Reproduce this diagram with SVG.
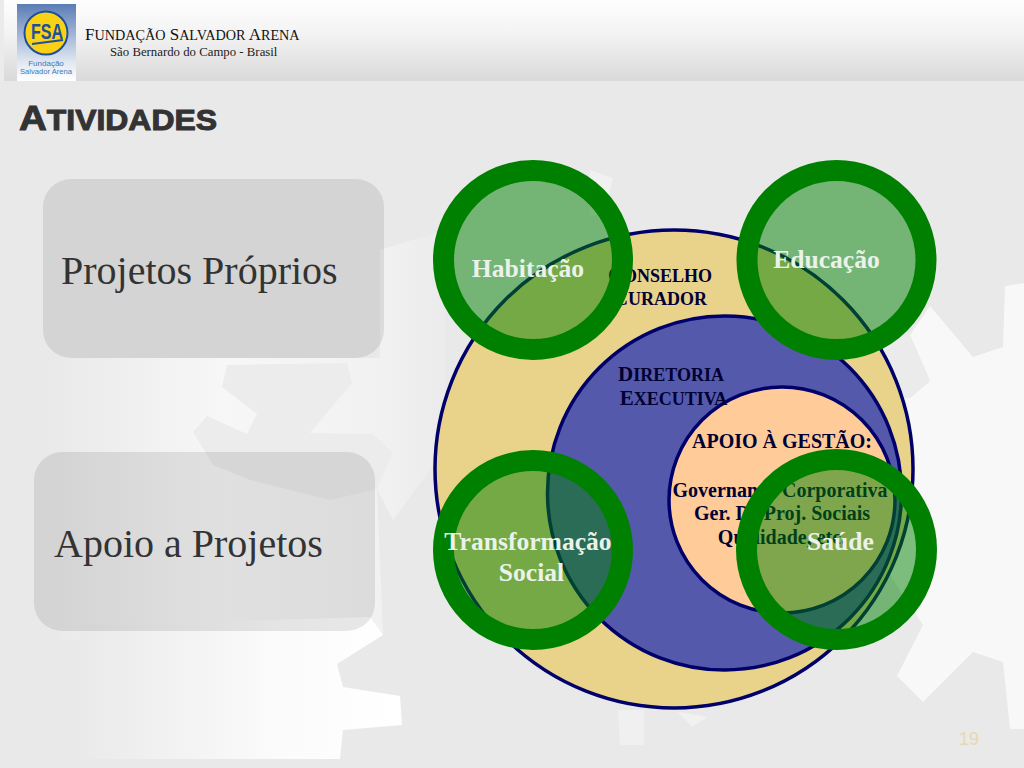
<svg xmlns="http://www.w3.org/2000/svg" width="1024" height="768" viewBox="0 0 1024 768">
<style>
.ring{fill:#008000;fill-opacity:.5;stroke:#008000;stroke-width:21}
.disc{stroke:#00006a;stroke-width:3.5}
.box{fill:#000;fill-opacity:.09}
.sf{font-family:"Liberation Serif","Times New Roman",serif}
.big{font-size:40px;fill:#333}
.nv{font-size:20px;font-weight:bold;fill:#000033;text-anchor:middle}
.cap{font-size:21px}
.sm{font-size:18px}
.lb{font-size:25.6px;font-weight:bold;fill:#eaf2ea;text-anchor:middle}
</style>
<defs>
<linearGradient id="hdr" x1="0" y1="0" x2="0" y2="1"><stop offset="0" stop-color="#fefefe"/><stop offset=".45" stop-color="#f2f2f2"/><stop offset="1" stop-color="#d9d9d9"/></linearGradient>
<linearGradient id="g1" gradientUnits="userSpaceOnUse" x1="70" y1="0" x2="480" y2="0"><stop offset="0" stop-color="#e9e9e9"/><stop offset=".5" stop-color="#fbfbfb"/><stop offset=".8" stop-color="#ffffff"/><stop offset="1" stop-color="#f2f2f2"/></linearGradient>
<linearGradient id="g2" gradientUnits="userSpaceOnUse" x1="45" y1="0" x2="445" y2="0"><stop offset="0" stop-color="#e9e9e9"/><stop offset=".45" stop-color="#f7f7f7"/><stop offset=".85" stop-color="#f1f1f1"/><stop offset="1" stop-color="#ebebeb"/></linearGradient>
<linearGradient id="lg" x1="0" y1="0" x2="0" y2="1"><stop offset="0" stop-color="#5b7db5"/><stop offset=".75" stop-color="#dfe7f2"/><stop offset="1" stop-color="#ffffff"/></linearGradient>
</defs>
<g id="background">
<rect width="1024" height="768" fill="#e9e9e9"/>
<polygon fill="url(#g2)" points="45,358 380,358 380,250 445,230 445,450 393,520 377,489 383,635 60,640"/>
<polygon fill="url(#g1)" points="80,625 370,617 383,635 337,664 343,687 400,696 402,725 343,730 340,759 80,759"/>
<polygon fill="#ececec" points="227,365 347,363 352,383 310,433 373,434 393,453 377,489 330,500 250,480 213,465 193,432 207,416 247,434 257,414 222,387"/>
<polygon fill="#f8f8f8" points="1005,286 1024,283 1024,729 1010,729 1003,662 973,652 923,702 897,676 923,625 880,560 880,400 910,398 930,381 910,335 930,306 973,357 1003,347"/>
<polygon fill="#ebebeb" points="910,335 930,381 910,398 880,400 880,340"/>
<polygon fill="#f1f1f1" points="590,170 613,178 604,215 590,215"/>
<polygon fill="#f0f0f0" points="618,710 644,710 644,745 620,745"/>
<polygon fill="#f1f1f1" points="678,712 708,717 692,727"/>
</g>
<g id="header">
<rect x="4" width="1020" height="81" fill="url(#hdr)"/>
<rect width="4" height="81" fill="#ebebeb"/>
<text class="sf" x="85" y="40" font-size="17" fill="#111">F<tspan font-size="14.2">UNDAÇÃO</tspan> S<tspan font-size="14.2">ALVADOR</tspan> A<tspan font-size="14.2">RENA</tspan></text>
<text class="sf" x="110" y="56" font-size="12.8" fill="#222">São Bernardo do Campo - Brasil</text>
</g>
<g id="logo">
<rect x="17" y="4" width="59" height="77" fill="url(#lg)"/>
<circle cx="46" cy="33" r="21.5" fill="#fbd116" stroke="#1d4f9c" stroke-width="2"/>
<text x="31" y="39" font-family="'Liberation Sans',Arial,sans-serif" font-size="22" font-weight="bold" fill="#1d4f9c" textLength="32" lengthAdjust="spacingAndGlyphs">FSA</text>
<line x1="32" y1="44" x2="63" y2="40" stroke="#1d4f9c" stroke-width="2"/>
<text x="46" y="66" font-family="'Liberation Sans',Arial,sans-serif" font-size="8" fill="#3f78b8" text-anchor="middle">Fundação</text>
<text x="46" y="74" font-family="'Liberation Sans',Arial,sans-serif" font-size="7.6" fill="#3f78b8" text-anchor="middle">Salvador Arena</text>
</g>
<text id="title" x="19" y="130" font-family="'Liberation Sans',Arial,sans-serif" font-weight="bold" font-size="35" fill="#333" stroke="#333" stroke-width="1" textLength="198" lengthAdjust="spacingAndGlyphs">A<tspan font-size="29">TIVIDADES</tspan></text>
<g id="projetos-proprios">
<rect class="box" x="43" y="179" width="341" height="179" rx="28"/>
<text class="sf big" x="61" y="284">Projetos Próprios</text>
</g>
<g id="apoio-a-projetos">
<rect class="box" x="34" y="452" width="341" height="179" rx="28"/>
<text class="sf big" x="54" y="557">Apoio a Projetos</text>
</g>
<g id="conselho-curador">
<circle class="disc" cx="674" cy="469" r="239" fill="#e9d28a"/>
</g>
<g id="diretoria-executiva">
<circle class="disc" cx="724.5" cy="493" r="177" fill="#5559ab"/>
</g>
<g id="apoio-a-gestao">
<circle class="disc" cx="782" cy="500" r="113" fill="#ffcc99"/>
</g>
<g id="labels">
<text class="sf nv cap" x="660" y="282">C<tspan class="sm">ONSELHO</tspan></text>
<text class="sf nv cap" x="660" y="305">C<tspan class="sm">URADOR</tspan></text>
<text class="sf nv cap" x="671" y="381">D<tspan class="sm">IRETORIA</tspan></text>
<text class="sf nv cap" x="673.5" y="405">E<tspan class="sm">XECUTIVA</tspan></text>
<text class="sf nv" x="782" y="448">APOIO À GESTÃO:</text>
<text class="sf nv" x="780" y="497">Governança Corporativa</text>
<text class="sf nv" x="782" y="520">Ger. De Proj. Sociais</text>
<text class="sf nv" x="782" y="544">Qualidade, etc.</text>
</g>
<g id="habitacao">
<circle class="ring" cx="533" cy="260" r="89.5"/>
<text class="sf lb" x="528" y="277">Habitação</text>
</g>
<g id="educacao">
<circle class="ring" cx="836.5" cy="260" r="89.5"/>
<text class="sf lb" x="826.5" y="268">Educação</text>
</g>
<g id="transformacao-social">
<circle class="ring" cx="533" cy="550" r="89.5"/>
<text class="sf lb" x="528" y="550">Transformação</text>
<text class="sf lb" x="531.5" y="581">Social</text>
</g>
<g id="saude">
<circle class="ring" cx="836.5" cy="549.5" r="90"/>
<text class="sf lb" x="840.5" y="550">Saúde</text>
</g>
<g id="connectors"/>
<text id="page-number" x="959" y="745" font-family="'Liberation Sans',Arial,sans-serif" font-size="18" fill="#e6d9b0">19</text>
</svg>
